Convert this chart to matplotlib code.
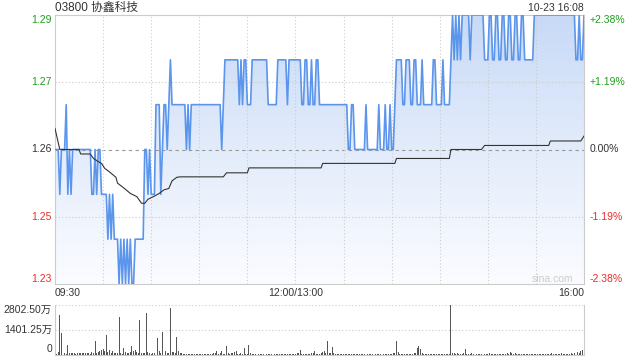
import matplotlib
matplotlib.use('Agg')
import matplotlib.pyplot as plt
from matplotlib.colors import LinearSegmentedColormap
import numpy as np

plt.rcParams['font.family'] = ['Liberation Sans', 'Noto Sans CJK SC']
plt.rcParams['axes.unicode_minus'] = False

# ---- 数据 ----
title = '03800 协鑫科技'
stamp = '10-23 16:08'
prev_close = 1.26
y_ticks = [1.29, 1.275, 1.26, 1.245, 1.23]
y_labels = ['1.29', '1.27', '1.26', '1.25', '1.23']
pct_labels = ['+2.38%', '+1.19%', '0.00%', '-1.19%', '-2.38%']
x_labels = ['09:30', '12:00/13:00', '16:00']
x_label_min = [0, 150, 330]
vol_labels = ['2802.50万', '1401.25万', '0']
vol_top = 2802.50

# 分时价格：变化起点(分钟) 与 价格
chg_min = [0, 3, 4, 7, 8, 9, 10, 11, 23, 25, 26, 27, 29, 33, 34, 35, 36, 37,
           40, 41, 42, 43, 44, 45, 46, 47, 48, 50, 56, 58, 59, 60, 63, 66, 67,
           68, 70, 71, 72, 73, 82, 83, 84, 85, 104, 105, 106, 115, 116, 117,
           118, 120, 123, 133, 139, 145, 146, 154, 156, 158, 160, 161, 163,
           165, 183, 185, 187, 194, 195, 202, 203, 206, 207, 209, 210, 212,
           213, 217, 219, 222, 224, 226, 229, 230, 236, 238, 242, 243, 247,
           248, 249, 250, 251, 252, 253, 254, 259, 260, 268, 271, 273, 275,
           277, 279, 281, 283, 285, 287, 289, 291, 293, 299, 325, 327, 328, 330]
chg_price = [1.26, 1.25, 1.26, 1.27, 1.25, 1.26, 1.25, 1.26, 1.25, 1.26, 1.25,
             1.26, 1.25, 1.24, 1.25, 1.24, 1.25, 1.24, 1.23, 1.24, 1.23, 1.24,
             1.23, 1.24, 1.23, 1.24, 1.23, 1.24, 1.26, 1.25, 1.26, 1.25, 1.27,
             1.25, 1.26, 1.27, 1.26, 1.27, 1.28, 1.27, 1.26, 1.27, 1.26, 1.27,
             1.26, 1.27, 1.28, 1.27, 1.28, 1.27, 1.28, 1.27, 1.28, 1.27, 1.28,
             1.27, 1.28, 1.27, 1.28, 1.27, 1.28, 1.27, 1.28, 1.27, 1.26, 1.27,
             1.26, 1.27, 1.26, 1.27, 1.26, 1.27, 1.26, 1.27, 1.26, 1.27, 1.28,
             1.27, 1.28, 1.27, 1.28, 1.27, 1.28, 1.27, 1.28, 1.27, 1.28, 1.27,
             1.28, 1.29, 1.28, 1.29, 1.28, 1.29, 1.28, 1.29, 1.28, 1.29, 1.28,
             1.29, 1.28, 1.29, 1.28, 1.29, 1.28, 1.29, 1.28, 1.29, 1.28, 1.29,
             1.28, 1.29, 1.28, 1.29, 1.28, 1.29]

# 均价线
avg_min = [0, 3, 15, 16, 22, 24, 27, 29, 31, 34, 38, 39, 43, 47, 51, 54, 56,
           58, 62, 65, 68, 71, 73, 76, 78, 105, 107, 120, 121, 166, 167, 212,
           213, 246, 247, 266, 268, 308, 309, 328, 330]
avg_price = [1.2647, 1.2600, 1.2600, 1.2590, 1.2590, 1.2580, 1.2573, 1.2569,
             1.2558, 1.2550, 1.2538, 1.2525, 1.2514, 1.2502, 1.2495, 1.2480,
             1.2480, 1.2489, 1.2496, 1.2502, 1.2510, 1.2513, 1.2530, 1.2538,
             1.2539, 1.2539, 1.2548, 1.2548, 1.2559, 1.2559, 1.2569, 1.2569,
             1.2580, 1.2580, 1.2600, 1.2600, 1.2609, 1.2609, 1.2619, 1.2619,
             1.2630]

# 成交量(万)，每分钟
vol = [60, 40, 120, 2230, 1190, 280, 60, 50, 530, 80, 60, 70, 90, 50, 80, 90, 60, 110, 70, 90, 60, 80, 50, 120, 90, 760, 100, 150, 200, 250,
       300, 180, 1100, 150, 240, 90, 180, 60, 100, 80, 2140, 60, 40, 380, 160, 80, 60, 120, 490, 200, 280, 150, 60, 1950, 90, 70, 60, 2370, 160, 110,
       50, 80, 60, 1950, 950, 180, 70, 1290, 660, 200, 60, 90, 2650, 120, 160, 60, 1000, 180, 90, 60, 30, 40, 25, 30, 20, 35, 25, 30, 20, 30,
       25, 30, 20, 35, 25, 30, 20, 40, 30, 60, 90, 190, 40, 60, 180, 50, 40, 490, 60, 40, 90, 60, 120, 190, 40, 30, 60, 40, 360, 50,
       40, 530, 60, 30, 25, 30, 20, 25, 30, 20, 25, 30, 20, 25, 30, 20, 25, 30, 20, 25, 30, 20, 25, 30, 20, 25, 30, 20, 25, 30,
       40, 60, 80, 250, 40, 30, 25, 30, 50, 40, 60, 90, 190, 50, 40, 30, 60, 120, 190, 60, 760, 80, 60, 430, 70, 40, 30, 25, 30, 20,
       25, 30, 20, 25, 30, 20, 25, 30, 20, 25, 30, 20, 25, 30, 20, 25, 30, 20, 25, 30, 20, 25, 30, 40, 25, 30, 20, 25, 30, 50,
       40, 60, 90, 760, 120, 50, 30, 25, 30, 20, 25, 30, 20, 25, 60, 90, 340, 490, 300, 80, 40, 30, 25, 30, 20, 25, 30, 20, 25, 30,
       20, 25, 30, 20, 25, 30, 40, 2800, 90, 60, 40, 60, 30, 50, 40, 60, 300, 50, 40, 30, 60, 40, 70, 30, 40, 25, 30, 40, 25, 30,
       40, 60, 30, 40, 25, 30, 50, 40, 30, 25, 30, 40, 60, 30, 120, 60, 40, 80, 50, 30, 40, 25, 30, 40, 30, 25, 30, 40, 30, 25,
       30, 40, 30, 25, 50, 30, 40, 25, 30, 40, 60, 30, 40, 25, 30, 40, 60, 30, 40, 50, 30, 40, 60, 50, 90, 70, 120, 80, 190, 240,
       1290]

# ---- 展开分时价格 ----
n = len(vol)
minutes = np.arange(n)
price = np.empty(n)
bounds = chg_min + [n]
for i in range(len(chg_min)):
    price[bounds[i]:bounds[i + 1]] = chg_price[i]

green = '#1e9e1e'
red = '#f02a2a'
dark = '#333333'
tick_colors = [green, green, dark, red, red]

fig = plt.figure(figsize=(6.4, 3.6), dpi=100)
ax = fig.add_axes([55 / 640, 1 - 284 / 360, 529 / 640, 269 / 360])
axv = fig.add_axes([55 / 640, 1 - 354.5 / 360, 529 / 640, 49.5 / 360])

ymin, ymax = y_ticks[-1], y_ticks[0]
ax.set_xlim(0, n - 1)
ax.set_ylim(ymin, ymax)

# 渐变填充
cmap = LinearSegmentedColormap.from_list('fill', ['#fbfcff', '#e3ecfb', '#c8daf7'])
grad = np.linspace(0, 1, 256).reshape(-1, 1)
poly = ax.fill_between(minutes, price, ymin, color='none', lw=0)
img = ax.imshow(grad, cmap=cmap, aspect='auto', origin='lower',
                extent=[0, n - 1, ymin, ymax], zorder=1)
img.set_clip_path(poly.get_paths()[0], transform=ax.transData)

# 网格
for t in [1.275, 1.245]:
    ax.axhline(t, color='#cccccc', lw=0.8, linestyle=(0, (1, 2)), zorder=2)
ax.axhline(prev_close, color='#999999', lw=0.8, linestyle=(0, (3, 3)), zorder=2)
for m in range(30, n - 1, 30):
    ax.axvline(m, color='#cccccc', lw=0.8, linestyle=(0, (1, 2)), zorder=2)

ax.plot(minutes, price, color='#5b95ec', lw=1.2, zorder=4)
ax.plot(avg_min, avg_price, color=dark, lw=0.8, zorder=5)

for a in (ax, axv):
    a.set_xticks([])
    a.set_yticks([])
    for s in a.spines.values():
        s.set_color('#cccccc')
        s.set_linewidth(0.8)
axv.spines['top'].set_visible(False)

# 左右刻度文字
for t, lab, pct, c in zip(y_ticks, y_labels, pct_labels, tick_colors):
    va = 'center'
    if t == ymax:
        va = 'top'
    elif t == ymin:
        va = 'bottom'
    ax.text(-3 / 529 * (n - 1), t, lab, ha='right', va=va, color=c, fontsize=7.5)
    ax.text(1 + 6 / 529, t, pct, ha='left', va=va, color=c, fontsize=7.5,
            transform=ax.get_yaxis_transform())

# 时间刻度
for m, lab in zip(x_label_min, x_labels):
    ha = 'center'
    if m == 0:
        ha = 'left'
    elif m == n - 1:
        ha = 'right'
    ax.text(m, -0.035, lab, ha=ha, va='center', fontsize=7.5, color=dark,
            transform=ax.get_xaxis_transform())

fig.text(55 / 640, 1 - 8 / 360, title, ha='left', va='center', fontsize=8.5, color=dark)
fig.text(584 / 640, 1 - 8 / 360, stamp, ha='right', va='center', fontsize=7.5, color=dark)
ax.text(0.94, 0.0, 'sina.com', ha='center', va='bottom', fontsize=7.5,
        color='#cccccc', transform=ax.transAxes, zorder=6)

# 成交量
axv.bar(minutes, vol, width=0.6, color='#555555', zorder=3)
axv.set_xlim(0, n - 1)
axv.set_ylim(0, vol_top)
axv.axhline(vol_top, color='#cccccc', lw=0.8, linestyle=(0, (1, 2)))
axv.axhline(vol_top / 2, color='#cccccc', lw=0.8, linestyle=(0, (1, 2)))
for v, lab, va in zip([vol_top, vol_top / 2, 0], vol_labels, ['top', 'center', 'bottom']):
    axv.text(-3 / 529 * (n - 1), v, lab, ha='right', va=va, fontsize=7.5, color=dark)

fig.savefig('out.png', dpi=100, facecolor='white')
plt.close(fig)
